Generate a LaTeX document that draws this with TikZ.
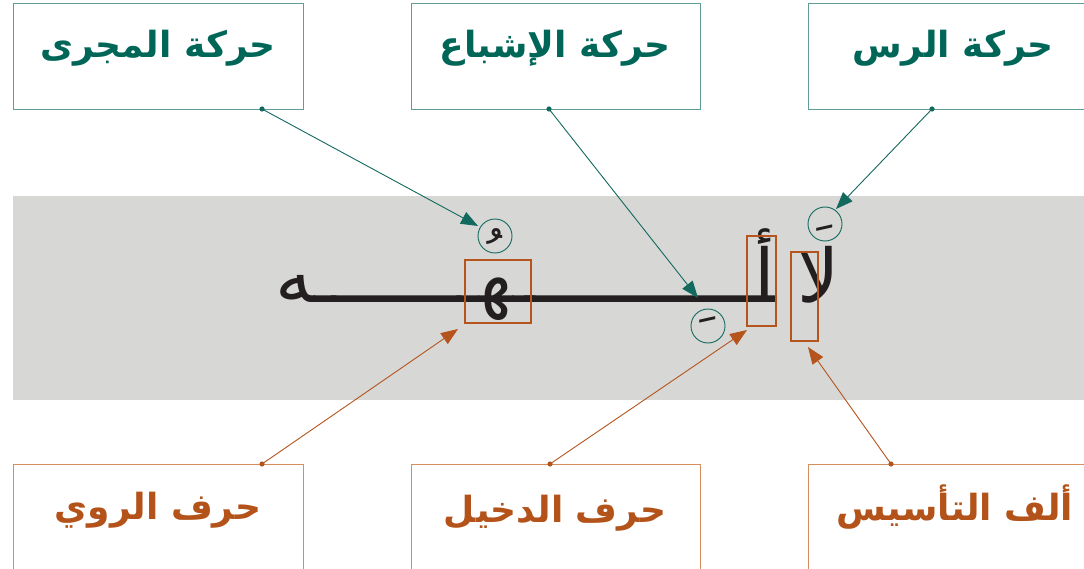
\documentclass[tikz,border=0pt]{standalone}
\usepackage{fontspec}
\usepackage{graphicx}
\usetikzlibrary{arrows.meta,calc}
\TeXXeTstate=1
\newfontfamily\arabicfont[Script=Arabic]{DejaVu Sans}
\definecolor{tealtext}{HTML}{006658}
\definecolor{tealline}{HTML}{12695E}
\definecolor{tealbox}{HTML}{5E9E96}
\definecolor{orangetext}{HTML}{B3531A}
\definecolor{orangebox}{HTML}{D58E5E}
\definecolor{orangeline}{HTML}{B5541C}
\definecolor{bandgray}{HTML}{D7D7D5}
\definecolor{inkblack}{HTML}{231F20}
\tikzset{
  tealframe/.style={draw=tealbox, line width=0.9pt},
  orangeframe/.style={draw=orangebox, line width=0.9pt},
  labeltext/.style={font=\arabicfont\bfseries\fontsize{36}{40}\selectfont, inner sep=0pt},
  wordtext/.style={font=\arabicfont\fontsize{74}{80}\selectfont, text=inkblack, inner sep=0pt, anchor=base east},
  letterbox/.style={draw=orangeline, line width=2pt, inner sep=0pt},
  markcircle/.style={circle, draw=tealline, line width=0.9pt, minimum size=34pt, inner sep=0pt,
    font=\arabicfont\fontsize{56}{60}\selectfont, text=inkblack},
  tealarrow/.style={draw=tealline, line width=0.9pt, -{Triangle[length=17pt,width=13pt]}},
  orangearrow/.style={draw=orangeline, line width=0.9pt, -{Triangle[length=17pt,width=13pt]}},
}
\begin{document}
\begin{tikzpicture}[x=1pt,y=-1pt]
\useasboundingbox (0,0) rectangle (1084,569);
\clip (0,0) rectangle (1084,569);
\fill[white] (0,0) rectangle (1084,569);
% band
\fill[bandgray] (13,196) rectangle (1090,400);
% top boxes
\draw[tealframe] (13,3) rectangle (303,109);
\draw[tealframe] (411,3) rectangle (700,109);
\draw[tealframe] (808,3) rectangle (1100,109);
\node[labeltext, text=tealtext] (lmajra) at (158,48) {\arabicfont\beginR حركة المجرى\endR};
\node[labeltext, text=tealtext] (lishba) at (555,48) {\arabicfont\beginR حركة الإشباع\endR};
\node[labeltext, text=tealtext] (lrass) at (953,48) {\arabicfont\beginR حركة الرس\endR};
% bottom boxes
\draw[orangeframe] (13,464) rectangle (303,580);
\draw[orangeframe] (411,464) rectangle (700,580);
\draw[orangeframe] (808,464) rectangle (1100,580);
\node[labeltext, text=orangetext] (lrawi) at (158,510) {\arabicfont\beginR حرف الروي\endR};
\node[labeltext, text=orangetext] (ldakhil) at (555,513) {\arabicfont\beginR حرف الدخيل\endR};
\node[labeltext, text=orangetext] (ltasis) at (955,507) {\arabicfont\beginR ألف التأسيس\endR};
% the word
\node[wordtext] (w1) at (840,302) {\arabicfont\beginR لا\endR};
\node[wordtext, anchor=base] (w2) at (765,302) {\arabicfont\beginR أ\endR};
\node[wordtext] (w4) at (535,302) {\arabicfont\beginR ـهـ\endR};
\node[wordtext, anchor=base west] (w6) at (275,302) {\arabicfont\beginR ـه\endR};
\coordinate (k3) at (770,302);
\path let \p1=(k3), \p2=(w4.base east), \n1={\x1-\x2+2pt} in
  node[wordtext] (w3) at (\p1) {\resizebox{\n1}{\height}{\arabicfont ـ}};
\path let \p1=(w4.base west), \p2=(w6.base east), \n1={\x1-\x2+2pt} in
  node[wordtext] (w5) at ($(\p1)+(1,0)$) {\resizebox{\n1}{\height}{\arabicfont ـ}};
% letter boxes
\node[letterbox, minimum width=66pt, minimum height=63pt] (brawi) at (498,291.5) {};
\node[letterbox, minimum width=29pt, minimum height=90pt] (bdakhil) at (761.5,281) {};
\node[letterbox, minimum width=27pt, minimum height=89pt] (btasis) at (804.5,296.5) {};
% mark circles with their harakat
\node[markcircle] (cdamma) at (495,236) {\raisebox{-42pt}[0pt][0pt]{\arabicfont ﹸ}};
\node[markcircle] (cfatha) at (825,224) {\raisebox{-41pt}[0pt][0pt]{\arabicfont ﹶ}};
\node[markcircle] (ckasra) at (708,326) {\raisebox{10pt}[0pt][0pt]{\arabicfont ﹺ}};
% connector ends
\coordinate (smajra) at (262,109);
\coordinate (sishba) at (549,109);
\coordinate (srass) at (932,109);
\coordinate (srawi) at (262,464);
\coordinate (sdakhil) at (550,464);
\coordinate (stasis) at (891,464);
\coordinate (tmajra) at (478,226);
\coordinate (tishba) at (698,298);
\coordinate (trass) at (836,209);
\coordinate (trawi) at (458,329);
\coordinate (tdakhil) at (747,330);
\coordinate (ttasis) at (808,347);
\draw[tealarrow] (smajra) -- (tmajra);
\draw[tealarrow] (sishba) -- (tishba);
\draw[tealarrow] (srass) -- (trass);
\draw[orangearrow] (srawi) -- (trawi);
\draw[orangearrow] (sdakhil) -- (tdakhil);
\draw[orangearrow] (stasis) -- (ttasis);
\foreach \c in {smajra,sishba,srass}{\fill[tealline] (\c) circle (2.6pt);}
\foreach \c in {srawi,sdakhil,stasis}{\fill[orangeline] (\c) circle (2.6pt);}
\end{tikzpicture}
\end{document}
